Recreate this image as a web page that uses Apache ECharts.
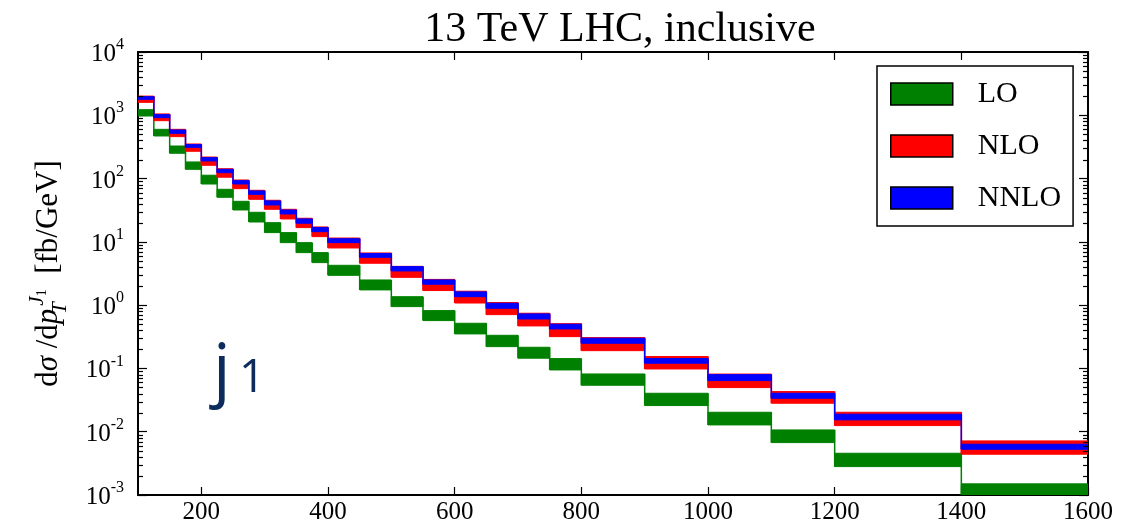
<!DOCTYPE html>
<html>
<head>
<meta charset="utf-8">
<script src="https://cdn.jsdelivr.net/npm/echarts@6/dist/echarts.min.js"></script>
<style>
  html, body { margin: 0; padding: 0; background: #fff; }
  #chart { width: 1132px; height: 525px; }
</style>
</head>
<body>
<div id="chart"></div>
<script>
// Leading-jet transverse momentum bins (GeV)
const binEdges = [100, 125, 150, 175, 200, 225, 250, 275, 300, 325, 350, 375, 400,
  450, 500, 550, 600, 650, 700, 750, 800, 900, 1000, 1100, 1200, 1400, 1600];

// Scale-variation bands, dσ/dpT in fb/GeV (lower and upper edge per bin)
const loLow  = [975, 471, 251, 140, 82, 50.6, 31.9, 20.6, 14.0, 9.72, 6.76, 4.70, 2.96,
  1.74, 0.948, 0.570, 0.351, 0.221, 0.145, 0.0946, 0.0542, 0.0259, 0.0128, 0.00673, 0.00281, 0.00095];
const loHigh = [1227, 600, 327, 183, 113, 67.7, 43.7, 29.3, 20.1, 14.0, 9.72, 6.76, 4.26,
  2.50, 1.36, 0.820, 0.517, 0.334, 0.216, 0.143, 0.0818, 0.0405, 0.0203, 0.01067, 0.00457, 0.0015];

const nloLow  = [1603, 822, 460, 270, 162, 105, 69.3, 47.0, 32.7, 23.0, 16.8, 12.1, 8.01,
  4.59, 2.75, 1.70, 1.08, 0.708, 0.469, 0.318, 0.191, 0.098, 0.0498, 0.0282, 0.0125, 0.00441];
const nloHigh = [2010, 1050, 600, 352, 219, 143, 95, 65.3, 45.4, 32.7, 23.6, 17.2, 11.5,
  6.68, 4.10, 2.55, 1.66, 1.10, 0.745, 0.510, 0.307, 0.154, 0.0815, 0.0431, 0.0203, 0.00716];

const nnloLow  = [1787, 918, 519, 312, 190, 124, 82.2, 56.4, 38.3, 27.6, 19.7, 14.5, 9.72,
  5.70, 3.47, 2.14, 1.36, 0.893, 0.605, 0.421, 0.250, 0.121, 0.0642, 0.0338, 0.0154, 0.00528];
const nnloHigh = [1970, 1023, 586, 344, 214, 140, 92.8, 63.7, 44.3, 31.9, 23.0, 16.8, 11.2,
  6.52, 4.06, 2.50, 1.62, 1.07, 0.726, 0.499, 0.300, 0.143, 0.0798, 0.0405, 0.0189, 0.00634];

// Axis ticks
const xTickValues = [200, 400, 600, 800, 1000, 1200, 1400, 1600];

const serif = "'Liberation Serif', 'Times New Roman', serif";

// minor log ticks 2..9 × 10^n inside the plotted range
const minorTickValues = [];
for (let e = -3; e < 4; e++) {
  for (let k = 2; k <= 9; k++) minorTickValues.push(k * Math.pow(10, e));
}

function bandSeries(name, color, low, high) {
  const data = low.map((v, i) => [binEdges[i], binEdges[i + 1], v, high[i]]);
  return {
    name: name,
    type: 'custom',
    xAxisIndex: 0,
    yAxisIndex: 0,
    clip: true,
    itemStyle: { color: color },
    dimensions: ['x0', 'x1', 'low', 'high'],
    encode: { x: [0, 1], y: [2, 3] },
    data: data,
    renderItem: function (params, api) {
      const i = params.dataIndex;
      const cs = params.coordSys;
      const rect = { x: cs.x, y: cs.y, width: cs.width, height: cs.height };
      const x0 = api.value(0), x1 = api.value(1), lo = api.value(2), hi = api.value(3);
      const pTop = api.coord([x0, hi]);
      const pBot = api.coord([x1, lo]);
      const box = echarts.graphic.clipRectByRect({
        x: pTop[0], y: pTop[1], width: pBot[0] - pTop[0], height: pBot[1] - pTop[1]
      }, rect);
      const children = [];
      if (box) {
        children.push({
          type: 'rect', shape: box,
          style: { fill: color, stroke: color, lineWidth: 1 }
        });
      }
      // vertical step joining this bin with the next one
      if (i < low.length - 1) {
        const top = Math.max(hi, high[i + 1]);
        const bot = Math.min(lo, low[i + 1]);
        const a = api.coord([x1, top]);
        const b = api.coord([x1, bot]);
        const yb = Math.min(b[1], cs.y + cs.height);
        children.push({
          type: 'line',
          shape: { x1: a[0], y1: a[1], x2: b[0], y2: yb },
          style: { stroke: color, lineWidth: 1.5 }
        });
      }
      return { type: 'group', children: children };
    }
  };
}

const axisLine = { show: true, onZero: false, lineStyle: { color: '#000', width: 2 } };

const yLabel = {
  show: true,
  margin: 14,
  formatter: function (v) {
    const e = Math.round(Math.log10(v));
    return '{b|10}{e|' + e + '}';
  },
  rich: {
    b: { fontFamily: serif, fontSize: 25, color: '#000', lineHeight: 30, verticalAlign: 'bottom' },
    e: { fontFamily: serif, fontSize: 16, color: '#000', lineHeight: 30, verticalAlign: 'top' }
  }
};

const option = {
  backgroundColor: '#fff',
  animation: false,
  title: {
    text: '13 TeV LHC, inclusive',
    left: 615,
    top: 4,
    textAlign: 'center',
    textStyle: { fontFamily: serif, fontSize: 42, fontWeight: 'normal', color: '#000' }
  },
  grid: { left: 138, right: 44, top: 52, bottom: 30, containLabel: false },
  legend: {
    data: ['LO', 'NLO', 'NNLO'],
    orient: 'vertical',
    left: 877,
    top: 66,
    padding: [13, 12, 13, 13],
    itemWidth: 62,
    itemHeight: 22,
    itemGap: 22,
    icon: 'rect',
    itemStyle: { borderColor: '#000', borderWidth: 1.5 },
    borderColor: '#000',
    borderWidth: 1.5,
    textStyle: { fontFamily: serif, fontSize: 30, color: '#000', padding: [0, 0, 0, 20] }
  },
  xAxis: [
    {
      type: 'value', min: 100, max: 1600, position: 'bottom',
      axisLine: axisLine,
      axisTick: { show: true, inside: true, length: 8, customValues: xTickValues, lineStyle: { color: '#000', width: 1.2 } },
      axisLabel: {
        customValues: xTickValues, fontFamily: serif, fontSize: 25, color: '#000', margin: 5,
        formatter: function (v) { return String(v); }
      },
      splitLine: { show: false }
    },
    {
      type: 'value', min: 100, max: 1600, position: 'top',
      axisLine: axisLine,
      axisTick: { show: true, inside: true, length: 8, customValues: xTickValues, lineStyle: { color: '#000', width: 1.2 } },
      axisLabel: { show: false },
      splitLine: { show: false }
    }
  ],
  yAxis: [
    {
      type: 'log', logBase: 10, min: 1e-3, max: 1e4, position: 'left',
      axisLine: axisLine,
      axisTick: { show: true, inside: true, length: 9, lineStyle: { color: '#000', width: 1.2 } },
      axisLabel: yLabel,
      splitLine: { show: false },
      name: '{r|d}{i|σ}{r| /d}{i|p}{sub|T}{sup|J}{ss|1}{r|  [fb/GeV]}',
      nameLocation: 'middle',
      nameGap: 67,
      nameRotate: 90,
      nameTextStyle: {
        rich: {
          r: { fontFamily: serif, fontSize: 31, color: '#000', lineHeight: 44, verticalAlign: 'middle' },
          i: { fontFamily: serif, fontSize: 31, fontStyle: 'italic', color: '#000', lineHeight: 44, verticalAlign: 'middle' },
          sub: { fontFamily: serif, fontSize: 21, fontStyle: 'italic', color: '#000', lineHeight: 44, verticalAlign: 'bottom', width: 1 },
          sup: { fontFamily: serif, fontSize: 21, fontStyle: 'italic', color: '#000', lineHeight: 44, verticalAlign: 'top', padding: [0, 0, 0, 2] },
          ss: { fontFamily: serif, fontSize: 14, color: '#000', lineHeight: 44, verticalAlign: 'top', padding: [8, 0, 0, 0] }
        }
      }
    },
    {
      type: 'log', logBase: 10, min: 1e-3, max: 1e4, position: 'right',
      axisLine: axisLine,
      axisTick: { show: true, inside: true, length: 9, lineStyle: { color: '#000', width: 1.2 } },
      axisLabel: { show: false },
      splitLine: { show: false }
    }
  ],
  series: [
    bandSeries('LO', '#008000', loLow, loHigh),
    bandSeries('NLO', '#ff0000', nloLow, nloHigh),
    bandSeries('NNLO', '#0000ff', nnloLow, nnloHigh)
  ]
};

const chart = echarts.init(document.getElementById('chart'), null, { renderer: 'canvas' });
chart.setOption(option);

// minor ticks on both vertical frame edges, placed with the y scale
const xLeft = chart.convertToPixel({ xAxisIndex: 0 }, binEdges[0]);
const xRight = chart.convertToPixel({ xAxisIndex: 0 }, binEdges[binEdges.length - 1]);
const tickElements = [];
minorTickValues.forEach(function (v) {
  const y = Math.round(chart.convertToPixel({ yAxisIndex: 0 }, v)) + 0.5;
  tickElements.push({ type: 'line', z: 10, silent: true, shape: { x1: xLeft, y1: y, x2: xLeft + 5, y2: y }, style: { stroke: '#000', lineWidth: 1.2 } });
  tickElements.push({ type: 'line', z: 10, silent: true, shape: { x1: xRight, y1: y, x2: xRight - 5, y2: y }, style: { stroke: '#000', lineWidth: 1.2 } });
});

chart.setOption({
  graphic: [
    {
      type: 'text', left: 213, top: 338,
      style: { text: 'j', fontFamily: "'Open Sans', sans-serif", fontSize: 70, fill: '#0d2b5c' }
    },
    {
      type: 'text', left: 239, top: 356,
      style: { text: '1', fontFamily: "'Open Sans', sans-serif", fontSize: 46, fill: '#0d2b5c' }
    },
    { type: 'group', children: tickElements }
  ]
});
</script>
</body>
</html>
